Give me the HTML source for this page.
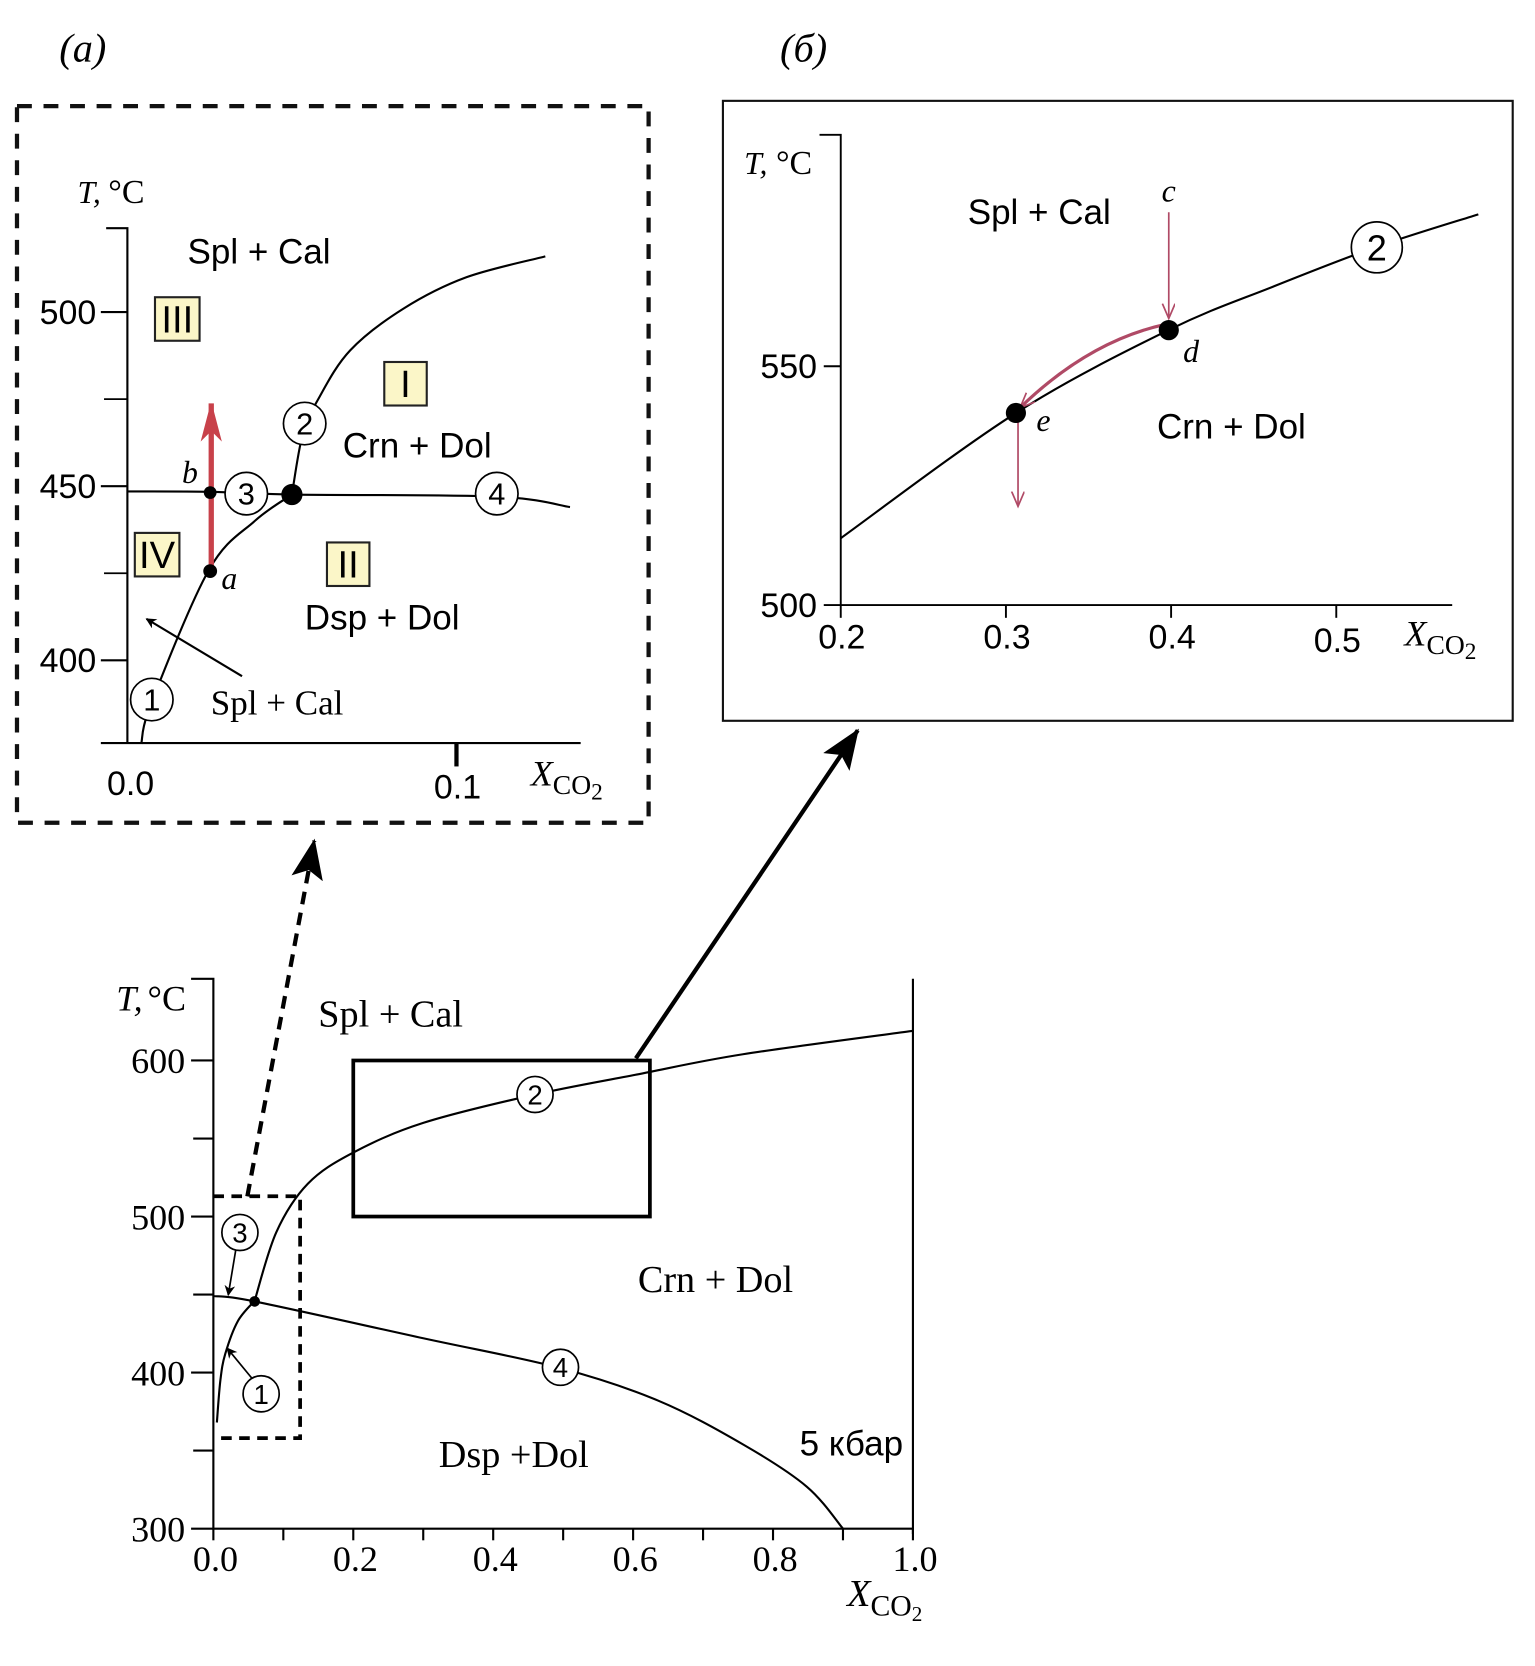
<!DOCTYPE html>
<html><head><meta charset="utf-8"><style>
html,body{margin:0;padding:0;background:#fff;}
svg{display:block}
.sans{font-family:"Liberation Sans",Arial,sans-serif}
.serif{font-family:"Liberation Serif","Times New Roman",serif}
</style></head><body>
<svg id="fig" width="1535" height="1666" viewBox="0 0 1446 1569.4" preserveAspectRatio="none" xmlns="http://www.w3.org/2000/svg">
<defs>
<marker id="ahBlack" markerWidth="10" markerHeight="10" refX="9" refY="5" orient="auto" markerUnits="userSpaceOnUse"><path d="M0,0 L10,5 L0,10 L3,5 z" fill="#000"/></marker>
<marker id="ahBig" markerWidth="40" markerHeight="40" refX="36" refY="15" orient="auto" markerUnits="userSpaceOnUse"><path d="M0,0 L38,15 L0,30 L8,15 z" fill="#000"/></marker>
<marker id="ahRed" markerWidth="30" markerHeight="40" refX="36" refY="10" orient="auto" markerUnits="userSpaceOnUse"><path d="M0,0 L38,10 L0,20 L10,10 z" fill="#c8414a"/></marker>
<marker id="ahPink" markerWidth="16" markerHeight="16" refX="14" refY="6" orient="auto" markerUnits="userSpaceOnUse"><path d="M0,0 L14,6 L0,12" fill="none" stroke="#b04a66" stroke-width="1.6"/></marker>
</defs>
<g id="root"></g>
</svg>
<script>
// ---------- Panel (a) data ----------
const aCurve1X = [0.0042,0.0074,0.0248,0.0387,0.05];
const aCurve1T = [376,388,426,440,447.6];
const aCurve2X = [0.05,0.0532,0.058,0.0677,0.0839,0.103,0.127];
const aCurve2T = [447.6,464.6,475,489,501,510,516];
const aLine4X = [0,0.025,0.05,0.112,0.1345];
const aLine4T = [448.5,448.4,447.6,447,444];
const aYTicks = [500,450,400];
const aYMinor = [475,425];
const aXTicks = [0.0,0.1];
// ---------- Panel (б) data ----------
const bCurveX = [0.2,0.306,0.3986,0.462,0.5245,0.586];
const bCurveT = [514,540.2,557.6,566.7,575,581.8];
const bYTicks = [550,500];
const bXTicks = [0.2,0.3,0.4,0.5];
// ---------- Main chart data ----------
const mCurve1X = [0.005,0.01,0.017,0.035,0.059];
const mCurve1T = [368,395,412,433,446];
const mCurve2X = [0.059,0.09,0.135,0.2,0.3,0.458,0.605,0.757,1.0];
const mCurve2T = [446,490,521,541,560,578,591,604,619];
const mLine4X = [0,0.059,0.30,0.495,0.636,0.757,0.848,0.9];
const mLine4T = [449,445.6,422,403,382,354,327,300];
const mYTicks = [600,500,400,300];
const mYMinor = [550,450,350];
const mXTicks = [0.0,0.2,0.4,0.6,0.8,1.0];
const mXMinor = [0.1,0.3,0.5,0.7,0.9];

const NS="http://www.w3.org/2000/svg";
const root=document.getElementById('root');
function mk(tag,attrs,parent){const e=document.createElementNS(NS,tag);for(const k in attrs)e.setAttribute(k,attrs[k]);(parent||root).appendChild(e);return e;}
function txt(x,y,s,cls,size,extra){const e=mk('text',Object.assign({x:x,y:y,'class':cls,'font-size':size,'text-anchor':'middle'},extra||{}));e.textContent=s;return e;}
function smooth(pts){let d='M'+pts[0][0]+','+pts[0][1];for(let i=0;i<pts.length-1;i++){const p0=pts[i-1]||pts[i],p1=pts[i],p2=pts[i+1],p3=pts[i+2]||p2;const c1=[p1[0]+(p2[0]-p0[0])/6,p1[1]+(p2[1]-p0[1])/6],c2=[p2[0]-(p3[0]-p1[0])/6,p2[1]-(p3[1]-p1[1])/6];d+=' C'+c1+' '+c2+' '+p2;}return d;}
function circLabel(x,y,r,s,size){const g=mk('g',{});mk('circle',{cx:x,cy:y,r:r,fill:'#fff',stroke:'#000','stroke-width':1.6},g);const t=mk('text',{x:x,y:y+size*0.36,'class':'sans','font-size':size,'text-anchor':'middle'},g);t.textContent=s;return g;}

let t;
t=txt(78,58,'(a)','serif',38,{'font-style':'italic'});

t=txt(757,58,'(б)','serif',38,{'font-style':'italic'});


// ================= Panel (a) =================
const ax=x=>120+x*3100, ay=T=>294+(500-T)*3.28;
let e=mk('rect',{x:16,y:100,width:595,height:675,fill:'none',stroke:'#111','stroke-width':4,'stroke-dasharray':'14 11'});

e=mk('path',{d:'M100,215 L120,215 L120,700',fill:'none',stroke:'#000','stroke-width':2});

e=mk('line',{x1:95,y1:700,x2:547,y2:700,stroke:'#000','stroke-width':2});

aYTicks.forEach(v=>{e=mk('line',{x1:95,y1:ay(v),x2:120,y2:ay(v),stroke:'#000','stroke-width':2});

e=txt(64,ay(v)+11,String(v),'sans',32);
});
aYMinor.forEach(v=>{e=mk('line',{x1:98,y1:ay(v),x2:120,y2:ay(v),stroke:'#000','stroke-width':1.6});
});
aXTicks.forEach(v=>{if(v>0){e=mk('line',{x1:ax(v),y1:700,x2:ax(v),y2:722,stroke:'#000','stroke-width':4});
}
e=txt(ax(v)+(v>0?1:3),v>0?752:749,v.toFixed(1),'sans',32);
});
e=txt(84,191,'T,','serif',30,{'font-style':'italic'});
e=txt(102,191,'°C','serif',32,{'text-anchor':'start'});
e=mk('text',{x:500,y:740,'class':'serif','font-size':34});e.innerHTML='<tspan font-style="italic">X</tspan><tspan dy="8" font-size="26">CO</tspan><tspan dy="5" font-size="22">2</tspan>';

e=mk('path',{d:smooth(aCurve1X.map((x,i)=>[ax(x),ay(aCurve1T[i])])),fill:'none',stroke:'#000','stroke-width':2});

e=mk('path',{d:smooth(aCurve2X.map((x,i)=>[ax(x),ay(aCurve2T[i])])),fill:'none',stroke:'#000','stroke-width':2});

e=mk('path',{d:smooth(aLine4X.map((x,i)=>[ax(x),ay(aLine4T[i])])),fill:'none',stroke:'#000','stroke-width':2});

e=mk('line',{x1:199,y1:538,x2:199,y2:380,stroke:'#c8414a','stroke-width':5,'marker-end':'url(#ahRed)'});

e=mk('circle',{cx:ax(0.05),cy:ay(447.6),r:10,fill:'#000'});
e=mk('circle',{cx:198,cy:464,r:6,fill:'#000'});
e=mk('circle',{cx:198,cy:538,r:6.5,fill:'#000'});
e=circLabel(143,659,20,'1',29);
e=circLabel(287,399,20,'2',29);
e=circLabel(232,465,20,'3',29);
e=circLabel(468,465,20,'4',29);
e=txt(179,455,'b','serif',30,{'font-style':'italic'});
e=txt(216,555,'a','serif',30,{'font-style':'italic'});
e=txt(244,248,'Spl + Cal','sans',33);
e=txt(393,431,'Crn + Dol','sans',33);
e=txt(360,593,'Dsp + Dol','sans',33);
e=txt(261,673,'Spl + Cal','serif',33);
e=mk('line',{x1:228,y1:637,x2:138,y2:583,stroke:'#000','stroke-width':2,'marker-end':'url(#ahBlack)'});

[['III',167,300,42],['I',382,361,40],['IV',148,522,42],['II',328,531,40]].forEach(b=>{
 const g=mk('g',{});
 mk('rect',{x:b[1]-b[3]/2,y:b[2]-20,width:b[3],height:41,fill:'#fbf6c8',stroke:'#222','stroke-width':2},g);
 const tt=mk('text',{x:b[1],y:b[2]+13,'class':'sans','font-size':36,'text-anchor':'middle'},g);tt.textContent=b[0];
 
});

// ================= Panel (б) =================
const bx=x=>792+(x-0.2)*1556, by=T=>570-(T-500)*4.5;
e=mk('rect',{x:681,y:95,width:744,height:584,fill:'none',stroke:'#111','stroke-width':2});

e=mk('path',{d:'M772,127 L792,127 L792,570 L1368,570',fill:'none',stroke:'#000','stroke-width':1.8});

bYTicks.forEach(v=>{e=mk('line',{x1:776,y1:by(v),x2:792,y2:by(v),stroke:'#000','stroke-width':1.8});

e=txt(743,by(v)+11,String(v),'sans',32);
});
bXTicks.forEach(v=>{e=mk('line',{x1:bx(v),y1:570,x2:bx(v),y2:582,stroke:'#000','stroke-width':1.8});

e=txt(bx(v)+1,v===0.5?614:611,v.toFixed(1),'sans',32);
});
e=txt(712,164,'T,','serif',30,{'font-style':'italic'});
e=txt(731,164,'°C','serif',32,{'text-anchor':'start'});
e=mk('text',{x:1323,y:608,'class':'serif','font-size':34});e.innerHTML='<tspan font-style="italic">X</tspan><tspan dy="8" font-size="26">CO</tspan><tspan dy="5" font-size="22">2</tspan>';

e=mk('path',{d:smooth(bCurveX.map((x,i)=>[bx(x),by(bCurveT[i])])),fill:'none',stroke:'#000','stroke-width':2});

e=circLabel(1297,233,24,'2',34);
e=mk('line',{x1:1101,y1:200,x2:1101,y2:300,stroke:'#b04a66','stroke-width':1.6,'marker-end':'url(#ahPink)'});

e=mk('path',{d:'M1096,306 Q1025,322 961,384',fill:'none',stroke:'#b04a66','stroke-width':3,'marker-end':'url(#ahPink)'});

e=mk('line',{x1:959,y1:395,x2:959,y2:477,stroke:'#b04a66','stroke-width':1.6,'marker-end':'url(#ahPink)'});

e=mk('circle',{cx:1101,cy:311,r:9.5,fill:'#000'});
e=mk('circle',{cx:957,cy:389,r:9.5,fill:'#000'});
e=txt(1101,190,'c','serif',30,{'font-style':'italic'});
e=txt(1122,341,'d','serif',30,{'font-style':'italic'});
e=txt(983,406,'e','serif',30,{'font-style':'italic'});
e=txt(979,211,'Spl + Cal','sans',33);
e=txt(1160,413,'Crn + Dol','sans',33);

// ================= Main chart =================
const mx=x=>201+x*659, my=T=>1440-(T-300)*1.47;
e=mk('path',{d:'M180,922 L201,922 L201,1440 L860,1440',fill:'none',stroke:'#000','stroke-width':2});

e=mk('line',{x1:860,y1:922,x2:860,y2:1445,stroke:'#000','stroke-width':2});

mYTicks.forEach(v=>{e=mk('line',{x1:180,y1:my(v),x2:201,y2:my(v),stroke:'#000','stroke-width':2});

e=txt(149,my(v)+12,String(v),'serif',34);
});
mYMinor.forEach(v=>{e=mk('line',{x1:182,y1:my(v),x2:201,y2:my(v),stroke:'#000','stroke-width':2});
});
mXTicks.forEach(v=>{e=mk('line',{x1:mx(v),y1:1440,x2:mx(v),y2:1451,stroke:'#000','stroke-width':2});

e=txt(mx(v)+2,1480,v.toFixed(1),'serif',34);
});
mXMinor.forEach(v=>{e=mk('line',{x1:mx(v),y1:1440,x2:mx(v),y2:1451,stroke:'#000','stroke-width':2});
});
e=txt(122,952,'T,','serif',34,{'font-style':'italic'});
e=txt(139,952,'°C','serif',34,{'text-anchor':'start'});
e=mk('text',{x:798,y:1513,'class':'serif','font-size':36});e.innerHTML='<tspan font-style="italic">X</tspan><tspan dy="9" font-size="28">CO</tspan><tspan dy="5" font-size="20">2</tspan>';

e=mk('path',{d:smooth(mCurve1X.map((x,i)=>[mx(x),my(mCurve1T[i])])),fill:'none',stroke:'#000','stroke-width':2});

e=mk('path',{d:smooth(mCurve2X.map((x,i)=>[mx(x),my(mCurve2T[i])])),fill:'none',stroke:'#000','stroke-width':2});

e=mk('path',{d:smooth(mLine4X.map((x,i)=>[mx(x),my(mLine4T[i])])),fill:'none',stroke:'#000','stroke-width':2});

e=mk('circle',{cx:mx(0.059),cy:my(445.6),r:5,fill:'#000'});
e=mk('rect',{x:mx(0.2),y:my(600),width:mx(0.624)-mx(0.2),height:my(500)-my(600),fill:'none',stroke:'#000','stroke-width':3.5});

e=mk('path',{d:'M'+mx(0)+','+my(513)+' L'+mx(0.124)+','+my(513)+' L'+mx(0.124)+','+my(358)+' L'+mx(0)+','+my(358),fill:'none',stroke:'#000','stroke-width':3.5,'stroke-dasharray':'10 7'});

e=mk('line',{x1:233,y1:1127,x2:296,y2:792,stroke:'#000','stroke-width':4,'stroke-dasharray':'12 8','marker-end':'url(#ahBig)'});

e=mk('line',{x1:599,y1:997,x2:808,y2:688,stroke:'#000','stroke-width':4,'marker-end':'url(#ahBig)'});

e=circLabel(226,1161,17,'3',26);
e=circLabel(246,1313,17,'1',26);
e=circLabel(504,1031,17,'2',26);
e=circLabel(528,1288,17,'4',26);
e=mk('line',{x1:222,y1:1178,x2:215,y2:1220,stroke:'#000','stroke-width':1.6,'marker-end':'url(#ahBlack)'});

e=mk('line',{x1:237,y1:1298,x2:214,y2:1270,stroke:'#000','stroke-width':1.6,'marker-end':'url(#ahBlack)'});

e=txt(368,967,'Spl + Cal','serif',36);
e=txt(674,1217,'Crn + Dol','serif',36);
e=txt(484,1382,'Dsp +Dol','serif',36);
e=txt(802,1371,'5 кбар','sans',33);
</script>
</body></html>
